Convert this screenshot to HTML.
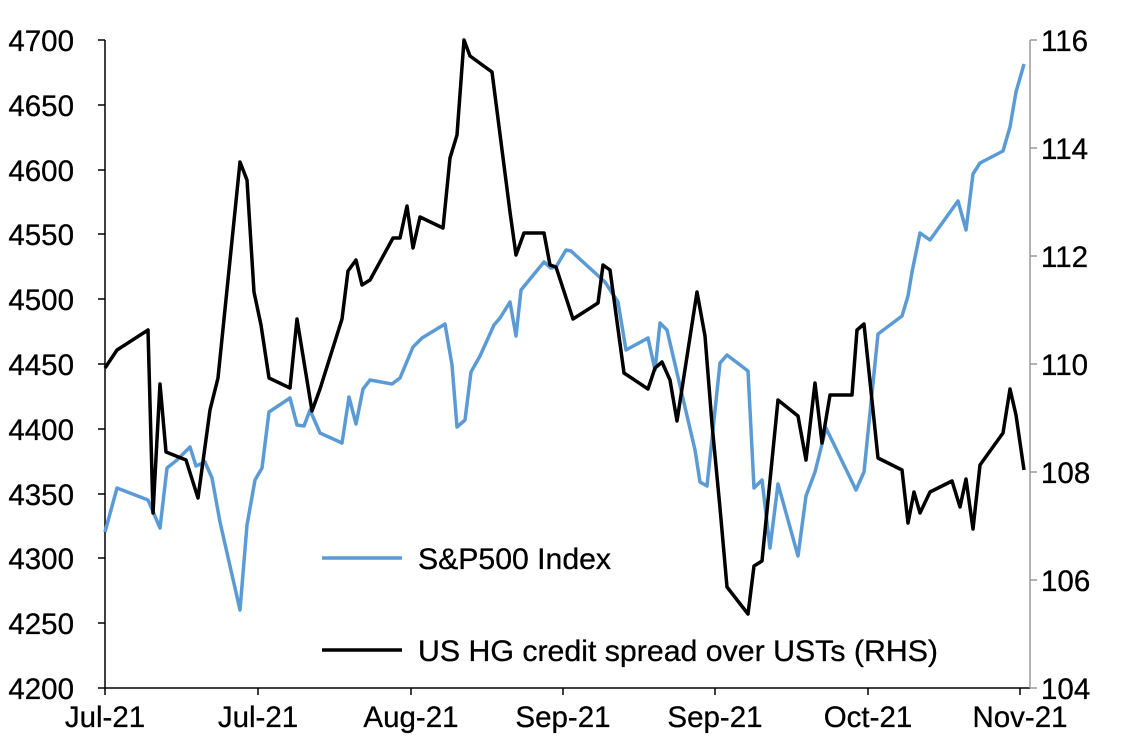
<!DOCTYPE html>
<html><head><meta charset="utf-8"><style>
html,body{margin:0;padding:0;background:#fff;}
svg text{font-family:"Liberation Sans",Arial,sans-serif;font-size:29.5px;fill:#000;stroke:#000;stroke-width:0.3;}
</style></head><body>
<svg width="1143" height="746" viewBox="0 0 1143 746" xmlns="http://www.w3.org/2000/svg">
<g stroke="#000" stroke-width="1.5">
<line x1="105" y1="40" x2="105" y2="688"/>
<line x1="105" y1="688" x2="1030" y2="688"/>
<line x1="98" y1="40" x2="105" y2="40"/><line x1="98" y1="105" x2="105" y2="105"/><line x1="98" y1="170" x2="105" y2="170"/><line x1="98" y1="234" x2="105" y2="234"/><line x1="98" y1="299" x2="105" y2="299"/><line x1="98" y1="364" x2="105" y2="364"/><line x1="98" y1="429" x2="105" y2="429"/><line x1="98" y1="494" x2="105" y2="494"/><line x1="98" y1="558" x2="105" y2="558"/><line x1="98" y1="623" x2="105" y2="623"/><line x1="98" y1="688" x2="105" y2="688"/>
<line x1="105" y1="688" x2="105" y2="695"/><line x1="258" y1="688" x2="258" y2="695"/><line x1="411" y1="688" x2="411" y2="695"/><line x1="563" y1="688" x2="563" y2="695"/><line x1="715" y1="688" x2="715" y2="695"/><line x1="868" y1="688" x2="868" y2="695"/><line x1="1020" y1="688" x2="1020" y2="695"/>
</g>
<g stroke="#999" stroke-width="1.5">
<line x1="1030" y1="40" x2="1030" y2="688"/>
<line x1="1030" y1="40" x2="1037" y2="40"/><line x1="1030" y1="148" x2="1037" y2="148"/><line x1="1030" y1="256" x2="1037" y2="256"/><line x1="1030" y1="364" x2="1037" y2="364"/><line x1="1030" y1="472" x2="1037" y2="472"/><line x1="1030" y1="580" x2="1037" y2="580"/><line x1="1030" y1="688" x2="1037" y2="688"/>
</g>
<g text-anchor="end">
<text x="74" y="51">4700</text><text x="74" y="116">4650</text><text x="74" y="181">4600</text><text x="74" y="245">4550</text><text x="74" y="310">4500</text><text x="74" y="375">4450</text><text x="74" y="440">4400</text><text x="74" y="505">4350</text><text x="74" y="569">4300</text><text x="74" y="634">4250</text><text x="74" y="699">4200</text>
</g>
<g>
<text x="1041" y="51">116</text><text x="1041" y="159">114</text><text x="1041" y="267">112</text><text x="1041" y="375">110</text><text x="1041" y="483">108</text><text x="1041" y="591">106</text><text x="1041" y="699">104</text>
</g>
<g text-anchor="middle" style="font-size:27px">
<text x="105" y="727">Jul-21</text><text x="258" y="727">Jul-21</text><text x="411" y="727">Aug-21</text><text x="563" y="727">Sep-21</text><text x="715" y="727">Sep-21</text><text x="868" y="727">Oct-21</text><text x="1020" y="727">Nov-21</text>
</g>
<polyline fill="none" stroke="#5b9bd5" stroke-width="3.5" stroke-linejoin="round" points="105,532 117,488 148,500 160,528 167,468 177,460 190,447 196,466 205,462 212,478 220,522 240,610 247,525 255,480 262,468 269,412 290,398 297,425 304,426 310,410 320,433 342,443 349,397 356,424 363,389 370,380 392,384 400,378 413,347 422,338 445,324 452,365 457,427 465,420 471,372 480,356 494,325 500,318 510,302 516,336 521,290 544,262 551,268 556,267 566,250 571,251 605,282 618,302 626,350 648,338 655,370 660,323 667,330 695,450 700,482 707,486 720,363 727,355 748,371 754,488 762,480 770,548 778,484 798,556 806,496 815,472 826,428 856,490 864,472 878,334 902,316 908,296 912,272 920,233 930,240 958,201 966,230 973,174 980,163 1003,151 1010,127 1016,92 1024,64"/>
<polyline fill="none" stroke="#000" stroke-width="3.5" stroke-linejoin="round" points="105,368 117,350 148,330 153,513 160,384 166,452 186,460 198,498 210,410 218,378 240,162 247,180 254,292 261,325 269,378 290,388 297,319 312,411 320,389 342,319 348,271 356,260 362,285 370,280 393,238 400,238 407,206 413,248 420,217 443,228 450,158 457,135 464,40 470,56 492,72 510,212 516,255 524,233 544,233 550,265 556,267 573,319 598,303 603,265 610,270 624,373 648,389 655,368 662,362 670,380 677,421 697,292 705,336 712,424 720,508 727,587 748,614 754,566 762,561 778,400 798,416 806,460 815,383 822,443 830,395 852,395 857,330 864,324 878,458 902,470 908,523 914,492 920,513 930,492 952,481 960,507 966,479 973,529 980,465 1003,433 1010,389 1016,415 1024,470"/>
<line x1="322" y1="558" x2="402" y2="558" stroke="#5b9bd5" stroke-width="3.5"/>
<text x="418" y="569" style="font-size:30px" textLength="193" lengthAdjust="spacingAndGlyphs">S&amp;P500 Index</text>
<line x1="322" y1="650" x2="402" y2="650" stroke="#000" stroke-width="3.5"/>
<text x="418" y="661" style="font-size:30px" textLength="520" lengthAdjust="spacingAndGlyphs">US HG credit spread over USTs (RHS)</text>
</svg>
</body></html>
